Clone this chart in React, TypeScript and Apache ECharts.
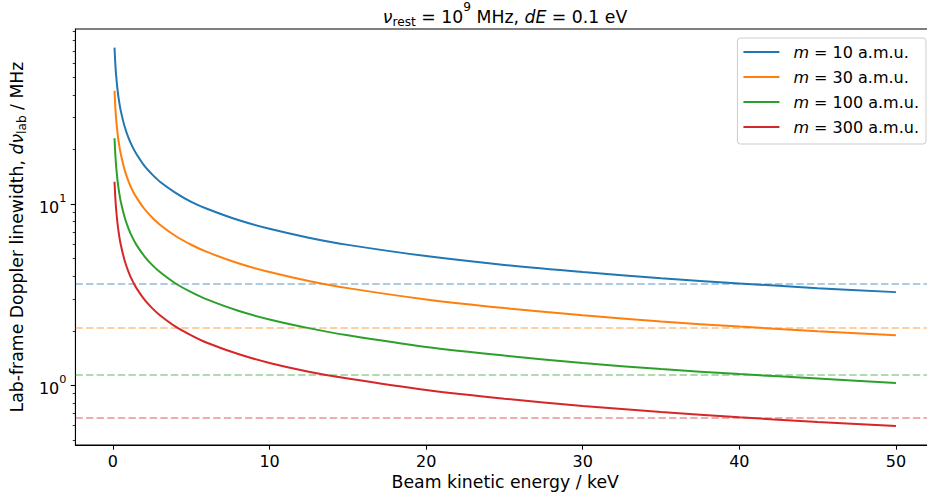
import React, { useEffect, useRef } from "react";
import * as echarts from "echarts";

const FONT = "DejaVu Sans";

// Beam kinetic energy (keV) at which widths were read
const energies = [0.1, 0.15, 0.2, 0.3, 0.4, 0.5, 0.75, 1, 1.25, 1.5, 2, 2.5, 3, 4, 5, 6, 8, 10, 12.5, 15, 20, 25, 30, 35, 40, 45, 50];

// Lab-frame Doppler linewidth (MHz) for each mass
const width_m10 = [73.0, 59.6, 51.7, 42.2, 36.5, 32.7, 26.7, 23.1, 20.7, 18.9, 16.3, 14.6, 13.3, 11.55, 10.3, 9.43, 8.17, 7.31, 6.53, 5.96, 5.17, 4.62, 4.22, 3.9, 3.65, 3.44, 3.27];
const width_m30 = [42.2, 34.4, 29.8, 24.3, 21.1, 18.9, 15.4, 13.3, 11.9, 10.9, 9.43, 8.44, 7.7, 6.67, 5.97, 5.45, 4.72, 4.22, 3.77, 3.44, 2.98, 2.67, 2.44, 2.25, 2.11, 1.99, 1.89];
const width_m100 = [23.1, 18.9, 16.3, 13.3, 11.55, 10.3, 8.44, 7.31, 6.53, 5.96, 5.17, 4.62, 4.22, 3.65, 3.27, 2.98, 2.58, 2.31, 2.07, 1.89, 1.63, 1.46, 1.33, 1.23, 1.155, 1.09, 1.03];
const width_m300 = [13.3, 10.9, 9.43, 7.7, 6.67, 5.97, 4.87, 4.22, 3.77, 3.44, 2.98, 2.67, 2.44, 2.11, 1.89, 1.72, 1.49, 1.33, 1.19, 1.09, 0.943, 0.844, 0.77, 0.713, 0.667, 0.629, 0.597];

const masses = [10, 30, 100, 300];
const widths = [width_m10, width_m30, width_m100, width_m300];
// Horizontal dashed reference levels (MHz)
const refLevels = [3.67, 2.11, 1.156, 0.667];
const colors = ["#1f77b4", "#ff7f0e", "#2ca02c", "#d62728"];

const xTicks = [0, 10, 20, 30, 40, 50];
const yMajor = [1, 10];
const yMinor = [0.5, 0.6, 0.7, 0.8, 0.9, 2, 3, 4, 5, 6, 7, 8, 9, 20, 30, 40, 50, 60, 70, 80, 90];

const X_MIN = -2.395;
const X_MAX = 52.495;
const Y_MIN = 0.469; // MHz
const Y_MAX = 92.5; // MHz

const names = masses.map((m) => `m = ${m} a.m.u.`);

export default function App() {
  const ref = useRef<HTMLDivElement>(null);
  useEffect(() => {
    if (!ref.current) return;
    const chart = echarts.init(ref.current, null, { renderer: "svg" });
    const lg = Math.log10;
    const axisLineStyle = { color: "#000", width: 1.07 };
    const series = masses.map((m, i) => ({
      name: names[i],
      type: "line",
      yAxisIndex: 0,
      data: energies.map((e, j) => [e, lg(widths[i][j])]),
      symbol: "none",
      smooth: 0.3,
      lineStyle: { color: colors[i], width: 2 },
      itemStyle: { color: colors[i] },
      z: 3,
      markLine: {
        silent: true,
        symbol: "none",
        label: { show: false },
        lineStyle: { color: colors[i], width: 1.6, type: [7.4, 3.2], opacity: 0.5 },
        data: [{ yAxis: lg(refLevels[i]) }],
        z: 2,
      },
    }));

    const bigFont = 17.3;
    chart.setOption({
      animation: false,
      backgroundColor: "#fff",
      title: {
        text: "{i|ν}{sub|rest}{n| = 10}{sup|9}{n| MHz, }{i|dE}{n| = 0.1 eV}",
        left: 505,
        textAlign: "center",
        top: 1,
        padding: 0,
        textStyle: {
          fontFamily: FONT,
          fontSize: bigFont,
          fontWeight: "normal",
          color: "#000",
          rich: {
            n: { fontFamily: FONT, fontSize: bigFont, color: "#000", lineHeight: 24, verticalAlign: "bottom" },
            i: { fontFamily: FONT, fontSize: bigFont, fontStyle: "italic", color: "#000", lineHeight: 24, verticalAlign: "bottom" },
            sub: { fontFamily: FONT, fontSize: 12.2, color: "#000", lineHeight: 14, verticalAlign: "bottom", padding: [0, 0, -3, 0] },
            sup: { fontFamily: FONT, fontSize: 12.2, color: "#000", lineHeight: 17, verticalAlign: "top" },
          },
        },
      },
      legend: {
        data: names,
        orient: "vertical",
        right: 14,
        top: 38,
        icon: "rect",
        itemWidth: 36,
        itemHeight: 2,
        itemGap: 7,
        padding: [5, 7, 8, 6],
        backgroundColor: "rgba(255,255,255,0.8)",
        borderColor: "#cccccc",
        borderWidth: 1,
        borderRadius: 3,
        formatter: (n: string) => "{i|m}{n|" + n.slice(1) + "}",
        textStyle: {
          fontFamily: FONT,
          fontSize: 16,
          color: "#000",
          lineHeight: 18,
          padding: [0, 0, 0, 9],
          rich: {
            i: { fontFamily: FONT, fontSize: 16, fontStyle: "italic", color: "#000" },
            n: { fontFamily: FONT, fontSize: 16, color: "#000" },
          },
        },
      },
      grid: {
        left: 75,
        top: 29,
        right: 5,
        bottom: 51,
        show: true,
        borderColor: "#000",
        borderWidth: 1.07,
        backgroundColor: "transparent",
      },
      xAxis: {
        type: "value",
        min: X_MIN,
        max: X_MAX,
        name: "Beam kinetic energy / keV",
        nameLocation: "middle",
        nameGap: 27,
        nameTextStyle: { fontFamily: FONT, fontSize: bigFont, color: "#000" },
        axisLine: { show: true, onZero: false, lineStyle: axisLineStyle },
        axisTick: { show: true, customValues: xTicks, length: 4.7, lineStyle: axisLineStyle },
        axisLabel: {
          customValues: xTicks,
          fontFamily: FONT,
          fontSize: 16,
          color: "#000",
          margin: 8,
        },
        splitLine: { show: false },
      },
      yAxis: [
        {
          type: "value",
          min: lg(Y_MIN),
          max: lg(Y_MAX),
          name: "{n|Lab-frame Doppler linewidth, }{i|dν}{sub|lab}{n| / MHz}",
          nameLocation: "middle",
          nameGap: 46,
          nameTextStyle: {
            fontFamily: FONT,
            fontSize: bigFont,
            color: "#000",
            rich: {
              n: { fontFamily: FONT, fontSize: bigFont, color: "#000", lineHeight: 24, verticalAlign: "bottom" },
              i: { fontFamily: FONT, fontSize: bigFont, fontStyle: "italic", color: "#000", lineHeight: 24, verticalAlign: "bottom" },
              sub: { fontFamily: FONT, fontSize: 12.2, color: "#000", lineHeight: 14, verticalAlign: "bottom", padding: [0, 0, -3, 0] },
            },
          },
          axisLine: { show: true, onZero: false, lineStyle: axisLineStyle },
          axisTick: { show: true, customValues: yMajor.map(lg), length: 4.7, lineStyle: axisLineStyle },
          axisLabel: {
            customValues: yMajor.map(lg),
            margin: 9,
            formatter: (v: number) => "{b|10}{sup|" + Math.round(v) + "}",
            rich: {
              b: { fontFamily: FONT, fontSize: 16, color: "#000", lineHeight: 22, verticalAlign: "bottom" },
              sup: { fontFamily: FONT, fontSize: 11.3, color: "#000", lineHeight: 15, verticalAlign: "top" },
            },
          },
          splitLine: { show: false },
        },
        {
          type: "value",
          min: lg(Y_MIN),
          max: lg(Y_MAX),
          position: "left",
          axisLine: { show: false, onZero: false },
          axisTick: { show: true, customValues: yMinor.map(lg), length: 2.7, lineStyle: { color: "#000", width: 0.8 } },
          axisLabel: { show: false },
          splitLine: { show: false },
        },
      ],
      series,
    });
    return () => chart.dispose();
  }, []);

  return (
    <div style={{ position: "fixed", left: 0, top: 0, width: 927, height: 496, overflow: "hidden", background: "#fff" }}>
      <div ref={ref} style={{ width: 940, height: 496 }} />
    </div>
  );
}
